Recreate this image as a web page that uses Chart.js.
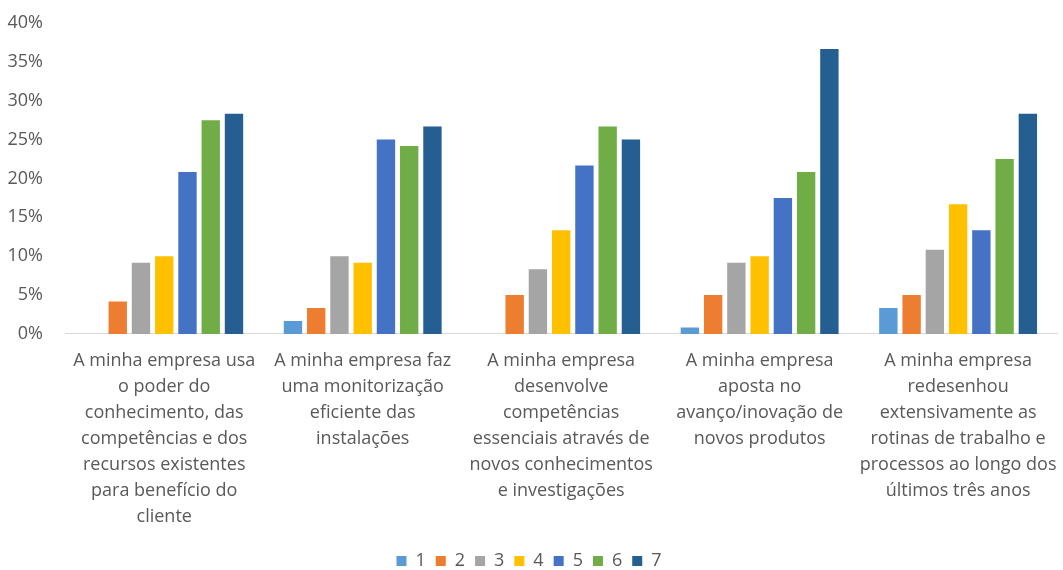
<!DOCTYPE html>
<html>
<head>
<meta charset="utf-8">
<script src="https://cdn.jsdelivr.net/npm/chart.js@4"></script>
<style>
  html, body { margin: 0; padding: 0; background: #fff; }
  #wrap { width: 1063px; height: 570px; }
</style>
</head>
<body>
<div id="wrap"><canvas id="chart"></canvas></div>
<script>
// Categories (statements), wrapped as in the original
const categories = [
    ['A minha empresa usa', 'o poder do', 'conhecimento, das', 'competências e dos', 'recursos existentes', 'para benefício do', 'cliente'],
    ['A minha empresa faz', 'uma monitorização', 'eficiente das', 'instalações'],
    ['A minha empresa', 'desenvolve', 'competências', 'essenciais através de', 'novos conhecimentos', 'e investigações'],
    ['A minha empresa', 'aposta no', 'avanço/inovação de', 'novos produtos'],
    ['A minha empresa', 'redesenhou', 'extensivamente as', 'rotinas de trabalho e', 'processos ao longo dos', 'últimos três anos']
];

// Share of answers per scale point (%)
const s1 = [0, 1.67, 0, 0.83, 3.33];
const s2 = [4.17, 3.33, 5.0, 5.0, 5.0];
const s3 = [9.17, 10.0, 8.33, 9.17, 10.83];
const s4 = [10.0, 9.17, 13.33, 10.0, 16.67];
const s5 = [20.83, 25.0, 21.67, 17.5, 13.33];
const s6 = [27.5, 24.17, 26.67, 20.83, 22.5];
const s7 = [28.33, 26.67, 25.0, 36.67, 28.33];

const seriesNames = ['1', '2', '3', '4', '5', '6', '7'];
const seriesValues = [s1, s2, s3, s4, s5, s6, s7];
const colors = ['#5B9BD5', '#ED7D31', '#A5A5A5', '#FFC000', '#4472C4', '#70AD47', '#255E91'];

const yTicks = [0, 5, 10, 15, 20, 25, 30, 35, 40];

const textColor = '#595959';
const fontFamily = '"Open Sans", sans-serif';

new Chart(document.getElementById('chart'), {
    type: 'bar',
    data: {
        labels: categories,
        datasets: seriesValues.map((vals, i) => ({
            label: seriesNames[i],
            data: vals,
            backgroundColor: colors[i],
            borderWidth: 0,
            categoryPercentage: 0.82,
            barPercentage: 0.79
        }))
    },
    options: {
        responsive: true,
        maintainAspectRatio: false,
        animation: false,
        layout: { padding: { left: 0, right: 5, top: 2, bottom: -10 } },
        plugins: {
            tooltip: { enabled: false },
            legend: {
                position: 'bottom',
                labels: {
                    usePointStyle: true,
                    pointStyle: 'rect',
                    boxWidth: 10,
                    boxHeight: 10,
                    padding: 10,
                    color: textColor,
                    font: { family: fontFamily, size: 18 }
                }
            }
        },
        scales: {
            x: {
                grid: { display: false },
                border: { display: true, color: '#D9D9D9', width: 1 },
                afterFit: axis => { axis.height += 6; },
                ticks: {
                    color: textColor,
                    autoSkip: false,
                    maxRotation: 0,
                    minRotation: 0,
                    padding: 6,
                    font: { family: fontFamily, size: 18, lineHeight: 1.445 }
                }
            },
            y: {
                min: 0,
                max: 40,
                afterBuildTicks: axis => { axis.ticks = yTicks.map(v => ({ value: v })); },
                afterFit: axis => { axis.width = 65; },
                grid: { display: false },
                border: { display: false },
                ticks: {
                    color: textColor,
                    padding: 14,
                    font: { family: fontFamily, size: 18, lineHeight: 1 },
                    callback: v => v + '%'
                }
            }
        }
    }
});
</script>
</body>
</html>
